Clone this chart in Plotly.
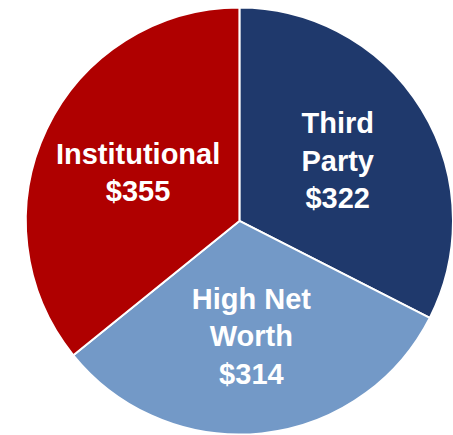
import plotly.graph_objects as go

labels = ["Third<br>Party", "High Net<br>Worth", "Institutional"]
values = [322, 314, 355]
colors = ["#1F396C", "#7399C7", "#AF0000"]

fig = go.Figure(go.Pie(
    labels=labels,
    values=values,
    sort=False,
    direction="clockwise",
    rotation=0,
    marker=dict(colors=colors, line=dict(color="white", width=2)),
    texttemplate="<b>%{label}<br>$%{value}</b>",
    textposition="inside",
    insidetextorientation="horizontal",
    textfont=dict(family="Arial, Liberation Sans, sans-serif", size=29, color="white"),
    hoverinfo="label+value",
    domain=dict(x=[0.057, 1.0], y=[0.0, 0.984]),
    showlegend=False,
))
fig.update_layout(
    width=453, height=435,
    margin=dict(l=0, r=0, t=0, b=0),
    paper_bgcolor="white",
    plot_bgcolor="white",
    uniformtext=dict(minsize=29, mode="show"),
)
fig.write_html(
    "out.html",
    config={"displayModeBar": False},
    post_script=(
        "document.body.style.margin='0';"
        "document.body.style.overflow='hidden';"
        "document.documentElement.style.overflow='hidden';"
    ),
)
